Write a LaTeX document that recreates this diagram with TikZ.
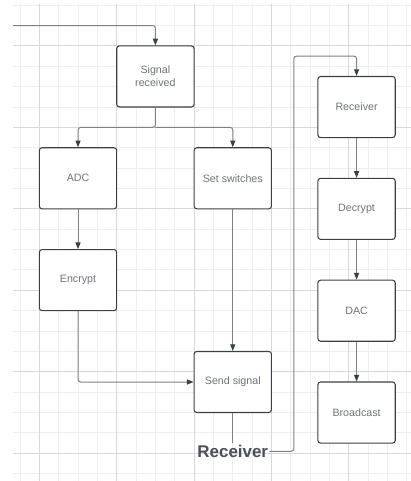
\documentclass[tikz,border=0pt]{standalone}
\usepackage{fontspec}
\setmainfont{Liberation Sans}
\usepackage{tikz}
\usetikzlibrary{arrows.meta}
\usepackage{xcolor}
\definecolor{BoxEdge}{RGB}{60,64,70}
\definecolor{BoxText}{RGB}{110,115,121}
\definecolor{LinkGray}{RGB}{125,130,135}
\definecolor{TipGray}{RGB}{60,64,70}
\definecolor{LabelGray}{RGB}{75,80,86}
\definecolor{GridMinor}{RGB}{238,238,238}
\definecolor{GridMajor}{RGB}{216,216,216}

\begin{document}
\begin{tikzpicture}[x=14.51pt,y=15.28pt,
  >={Triangle[length=5pt,width=3.8pt,color=TipGray]},
  box/.style={draw=BoxEdge,fill=white,line width=0.8pt,rounded corners=2pt,
              minimum width=58pt,minimum height=45.8pt,inner sep=2pt,align=center,
              text=BoxText,font=\fontsize{8}{9.5}\selectfont},
  link/.style={draw=LinkGray,line width=0.75pt,rounded corners=2pt},
  gridln/.style={line width=0.75pt},
]
\useasboundingbox[fill=white] (-1.034,-1.36) rectangle (20.207,22.254);
% background grid
\foreach \i in {0,...,20}
  \draw[gridln,GridMinor] (\i,-1.36) -- (\i,22.06);
\foreach \j in {-1,...,22}
  \draw[gridln,GridMinor] (-0.36,\j) -- (20.207,\j);
\foreach \i in {1,5,...,17}
  \draw[gridln,GridMajor] (\i,-1.36) -- (\i,22.06);
\foreach \j in {0,4,...,20}
  \draw[gridln,GridMajor] (-0.36,\j) -- (20.207,\j);

% sender side
\node[box] (sig) at (7,18.5) {Signal\\received};
\node[box] (adc) at (3,13.5) {ADC};
\node[box] (sw) at (11,13.5) {Set switches};
\node[box] (enc) at (3,8.5) {Encrypt};
\node[box] (send) at (11,3.5) {Send signal};
\node[font=\fontsize{12.7}{14}\selectfont\bfseries,text=LabelGray,inner sep=1pt]
  (rxlbl) at (11,0.1) {Receiver};
% receiver side
\node[box] (rx) at (17.4,17) {Receiver};
\node[box] (dec) at (17.4,12) {Decrypt};
\node[box] (dac) at (17.4,7) {DAC};
\node[box] (bc) at (17.4,2) {Broadcast};

\coordinate (in) at (-0.36,21);
\coordinate (split) at (7,16);
\coordinate (up) at (14.16,19.5);

\draw[->,link] (in) -| (sig.north);
\draw[->,link] (sig.south) -- (split) -| (adc.north);
\draw[->,link] (split) -| (sw.north);
\draw[->,link] (adc) -- (enc);
\draw[->,link] (sw) -- (send);
\draw[->,link] (enc.south) |- (send.west);
\draw[link] (send) -- (rxlbl);
\draw[->,link] (rxlbl.east) -| (up) -| (rx.north);
\draw[->,link] (rx) -- (dec);
\draw[->,link] (dec) -- (dac);
\draw[->,link] (dac) -- (bc);
\end{tikzpicture}
\end{document}
